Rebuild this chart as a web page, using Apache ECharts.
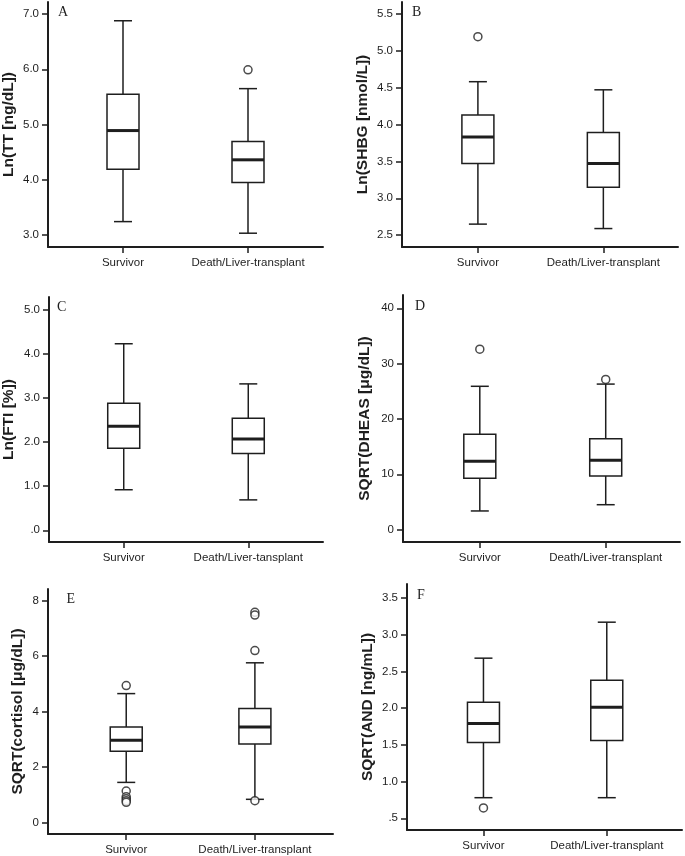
<!DOCTYPE html>
<html><head><meta charset="utf-8">
<script src="https://cdn.jsdelivr.net/npm/echarts@6/dist/echarts.min.js"></script>
<style>html,body{margin:0;padding:0;background:#fff}#c{width:685px;height:856px}</style>
</head><body><div id="c"></div>
<script>
const categories = ['Survivor', 'Death/Liver-transplant'];
const categoriesC = ['Survivor', 'Death/Liver-tansplant'];

// box stats per group: [min whisker, Q1, median, Q3, max whisker]
const boxA = [[3.24, 4.19, 4.89, 5.55, 6.88], [3.03, 3.95, 4.36, 4.69, 5.65]];
const outA = [[1, 5.99]];
const ticksA = [3, 4, 5, 6, 7];
const labelsA = ['3.0', '4.0', '5.0', '6.0', '7.0'];

const boxB = [[2.65, 3.47, 3.83, 4.13, 4.58], [2.59, 3.15, 3.47, 3.89, 4.47]];
const outB = [[0, 5.19]];
const ticksB = [2.5, 3, 3.5, 4, 4.5, 5, 5.5];
const labelsB = ['2.5', '3.0', '3.5', '4.0', '4.5', '5.0', '5.5'];

const boxC = [[0.92, 1.86, 2.36, 2.88, 4.23], [0.69, 1.74, 2.07, 2.54, 3.32]];
const outC = [];
const ticksC = [0, 1, 2, 3, 4, 5];
const labelsC = ['.0', '1.0', '2.0', '3.0', '4.0', '5.0'];

const boxD = [[3.37, 9.3, 12.36, 17.25, 25.9], [4.5, 9.7, 12.54, 16.4, 26.3]];
const outD = [[0, 32.6], [1, 27.15]];
const ticksD = [0, 10, 20, 30, 40];
const labelsD = ['0', '10', '20', '30', '40'];

const boxE = [[1.44, 2.56, 2.96, 3.44, 4.64], [0.83, 2.82, 3.44, 4.10, 5.75]];
const outE = [[0, 4.93], [0, 1.13], [0, 0.92], [0, 0.85], [0, 0.78], [0, 0.72],
              [1, 7.57], [1, 7.47], [1, 6.19], [1, 0.78]];
const ticksE = [0, 2, 4, 6, 8];
const labelsE = ['0', '2', '4', '6', '8'];

const boxF = [[0.78, 1.53, 1.79, 2.08, 2.68], [0.78, 1.56, 2.01, 2.38, 3.17]];
const outF = [[0, 0.64]];
const ticksF = [0.5, 1, 1.5, 2, 2.5, 3, 3.5];
const labelsF = ['.5', '1.0', '1.5', '2.0', '2.5', '3.0', '3.5'];

const panels = [
  {key: 'A', title: 'Ln(TT [ng/dL])', cats: categories, box: boxA, out: outA, ticks: ticksA, labels: labelsA,
   left: 48, top: 2, right: 323, bottom: 247, xmin: -0.6, xmax: 1.6, ymin: 2.78, ymax: 7.22, gap: 31, lx: 58, ly: 13.5},
  {key: 'B', title: 'Ln(SHBG [nmol/L])', cats: categories, box: boxB, out: outB, ticks: ticksB, labels: labelsB,
   left: 402, top: 2, right: 678, bottom: 247, xmin: -0.605, xmax: 1.595, ymin: 2.34, ymax: 5.66, gap: 31, lx: 412, ly: 13.5},
  {key: 'C', title: 'Ln(FTI [%])', cats: categoriesC, box: boxC, out: outC, ticks: ticksC, labels: labelsC,
   left: 48, top: 297, right: 323, bottom: 542, xmin: -0.6, xmax: 1.6, ymin: -0.265, ymax: 5.29, gap: 32, lx: 57, ly: 308.5},
  {key: 'D', title: 'SQRT(DHEAS [\u03bcg/dL])', cats: categories, box: boxD, out: outD, ticks: ticksD, labels: labelsD,
   left: 403, top: 295, right: 680, bottom: 542, xmin: -0.61, xmax: 1.59, ymin: -2.24, ymax: 42.4, gap: 30, lx: 415, ly: 307.5},
  {key: 'E', title: 'SQRT(cortisol [\u03bcg/dL])', cats: categories, box: boxE, out: outE, ticks: ticksE, labels: labelsE,
   left: 48, top: 589, right: 333, bottom: 835, xmin: -0.608, xmax: 1.607, ymin: -0.42, ymax: 8.41, gap: 22, lx: 66.5, ly: 600.5},
  {key: 'F', title: 'SQRT(AND [ng/mL])', cats: categories, box: boxF, out: outF, ticks: ticksF, labels: labelsF,
   left: 407, top: 584, right: 682, bottom: 830, xmin: -0.62, xmax: 1.61, ymin: 0.34, ymax: 3.69, gap: 31, lx: 417, ly: 596}
];

const INK = '#1e1e1e';
const SANS = '"Liberation Sans", Arial, sans-serif';

function renderBox(params, api) {
  const x = api.value(0);
  const lo = api.coord([x, api.value(1)]);
  const q1 = api.coord([x, api.value(2)]);
  const md = api.coord([x, api.value(3)]);
  const q3 = api.coord([x, api.value(4)]);
  const hi = api.coord([x, api.value(5)]);
  const cx = lo[0], bw = 32, cw = 18;
  const st = {stroke: INK, lineWidth: 1.5, fill: null};
  return {
    type: 'group',
    children: [
      {type: 'line', shape: {x1: cx, y1: hi[1], x2: cx, y2: q3[1]}, style: st},
      {type: 'line', shape: {x1: cx, y1: q1[1], x2: cx, y2: lo[1]}, style: st},
      {type: 'line', shape: {x1: cx - cw / 2, y1: hi[1], x2: cx + cw / 2, y2: hi[1]}, style: st},
      {type: 'line', shape: {x1: cx - cw / 2, y1: lo[1], x2: cx + cw / 2, y2: lo[1]}, style: st},
      {type: 'rect', shape: {x: cx - bw / 2, y: q3[1], width: bw, height: q1[1] - q3[1]}, style: {stroke: INK, lineWidth: 1.5, fill: '#fff'}},
      {type: 'line', shape: {x1: cx - bw / 2, y1: md[1], x2: cx + bw / 2, y2: md[1]}, style: {stroke: INK, lineWidth: 3}}
    ]
  };
}

const grid = [], xAxis = [], yAxis = [], series = [], graphic = [];
panels.forEach((p, i) => {
  grid.push({left: p.left, top: p.top, width: p.right - p.left, height: p.bottom - p.top, containLabel: false});
  xAxis.push({
    type: 'value', gridIndex: i, min: p.xmin, max: p.xmax, position: 'bottom',
    axisLine: {show: true, onZero: false, lineStyle: {color: INK, width: 2}},
    axisTick: {show: true, customValues: [0, 1], length: 6, lineStyle: {color: INK, width: 1.5}},
    axisLabel: {show: true, customValues: [0, 1], margin: 10, color: INK, fontSize: 11.5, fontFamily: SANS,
      formatter: v => p.cats[Math.round(v)]},
    splitLine: {show: false}
  });
  yAxis.push({
    type: 'value', gridIndex: i, min: p.ymin, max: p.ymax, position: 'left',
    name: p.title, nameLocation: 'middle', nameGap: p.gap, nameRotate: 90,
    nameTextStyle: {fontSize: 15.5, fontWeight: 'bold', color: INK, fontFamily: SANS},
    axisLine: {show: true, onZero: false, lineStyle: {color: INK, width: 2}},
    axisTick: {show: true, customValues: p.ticks, length: 6, lineStyle: {color: INK, width: 1.5}},
    axisLabel: {show: true, customValues: p.ticks, margin: 9, color: INK, fontSize: 11.5, fontFamily: SANS,
      formatter: v => { const k = p.ticks.findIndex(t => Math.abs(t - v) < 1e-9); return k >= 0 ? p.labels[k] : ''; }},
    splitLine: {show: false}
  });
  series.push({
    type: 'custom', xAxisIndex: i, yAxisIndex: i, renderItem: renderBox, clip: false,
    encode: {x: 0, y: [1, 2, 3, 4, 5]},
    data: p.box.map((b, k) => [k].concat(b)), silent: true
  });
  series.push({
    type: 'scatter', xAxisIndex: i, yAxisIndex: i, data: p.out, symbol: 'circle', symbolSize: 8,
    itemStyle: {color: '#fff', borderColor: INK, borderWidth: 1.5}, silent: true, z: 5
  });
  graphic.push({type: 'text', left: p.lx, top: p.ly - 8,
    style: {text: p.key, font: '14px "Liberation Serif", "Times New Roman", serif', fill: INK}});
});

const chart = echarts.init(document.getElementById('c'), null, {renderer: 'canvas'});
chart.setOption({
  backgroundColor: '#fff', animation: false,
  grid, xAxis, yAxis, series, graphic
});
</script>
</body></html>
